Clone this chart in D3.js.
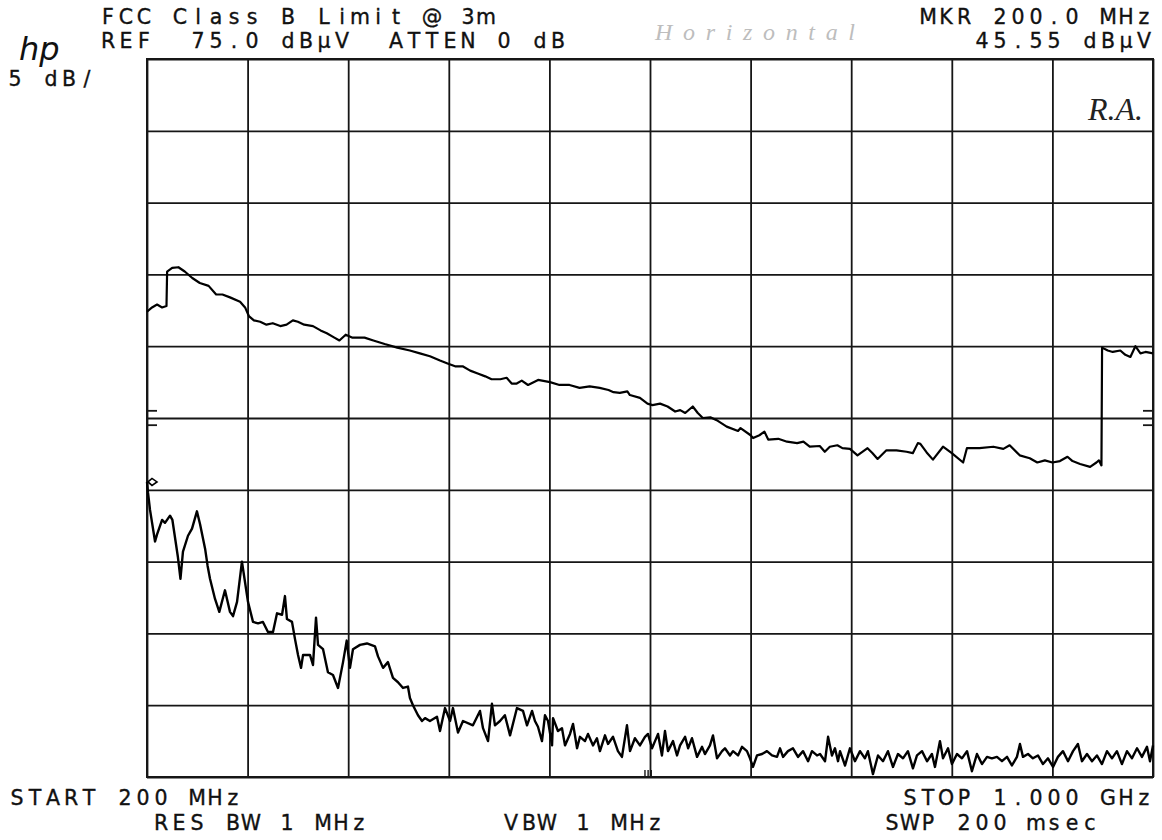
<!DOCTYPE html>
<html>
<head>
<meta charset="utf-8">
<script src="https://cdn.jsdelivr.net/npm/d3@7"></script>
<style>
  body { margin: 0; background: #fff; }
  svg { display: block; }
  text { white-space: pre; }
</style>
</head>
<body>
<svg width="1162" height="840"></svg>
<script>
// values: [MHz, dBuV]
const limitTrace = [
  [200,57.4],[204,57.7],[208,57.9],[212,57.7],[215.5,57.8],[216,60.2],[220,60.45],[225,60.5],[230,60.2],
  [236,59.75],[242,59.4],[249,59.2],[255,58.6],[260,58.6],[266,58.4],[274,58.1],[278,57.7],[281,57.1],
  [285,56.8],[290,56.7],[295,56.5],[300,56.6],[306,56.4],[311,56.5],[316,56.8],[320,56.7],[325,56.5],
  [332,56.4],[338,56.1],[343,55.9],[349,55.6],[353,55.4],[358,55.8],[363,55.6],[368,55.6],[373,55.6],
  [380,55.4],[389,55.15],[399,54.9],[409,54.7],[417,54.5],[425,54.3],[433,54.0],[439,53.8],[445,53.6],
  [451,53.6],[457,53.3],[463,53.1],[469,52.9],[474,52.7],[481,52.7],[486,52.8],[490,52.4],[494,52.4],
  [498,52.6],[503,52.3],[511,52.65],[520.5,52.5],[528,52.3],[536,52.3],[544,52.1],[552,52.2],[560,52.1],
  [567,51.95],[571,51.8],[576,51.75],[582,51.85],[584,51.6],[592,51.4],[598,51.0],[602,50.9],[608,51.0],
  [614,50.8],[620,50.45],[624,50.55],[628,50.35],[634,50.8],[638,50.35],[642,50.0],[648,50.05],[653,49.85],
  [661,49.4],[670,49.1],[672,49.3],[680,48.8],[682,48.6],[687,48.8],[691,49.05],[694,48.5],[702,48.55],
  [709,48.35],[717,48.25],[722,48.35],[727,48.0],[735,48.05],[739,47.65],[743,48.0],[749,48.1],[753,47.9],
  [759,47.85],[765,47.4],[773,47.9],[777,47.55],[781,47.15],[788,47.75],[796,47.75],[804,47.65],[809,47.55],
  [813,48.25],[815,48.2],[820,47.6],[825,47.1],[833,48.0],[840,47.55],[849,46.9],[852,47.9],[862,47.9],
  [873,48.0],[881,47.85],[886,48.1],[894,47.4],[902,47.2],[908,46.9],[914,47.05],[920,46.9],[926,47.0],
  [932,47.3],[936,47.0],[942,46.8],[950,46.6],[955,46.9],[957,47.05],[959,46.7],[959.5,54.9],[964,54.7],
  [968,54.6],[974,54.7],[978,54.4],[982,54.25],[986,55.0],[990,54.5],[994,54.6],[1000,54.5]
];

const scanTrace = [
  [200,45.55],[200.8,44.8],[202.4,43.6],[206.4,41.4],[208,41.9],[212,42.9],[214.3,42.7],[218.3,43.2],
  [220.2,42.9],[224.6,40.3],[226.6,38.8],[228.6,40.7],[232.6,41.8],[235.8,42.3],[239.7,43.5],[242.2,42.6],
  [246.2,40.9],[248.2,39.7],[250.1,38.8],[254.1,37.4],[257.5,36.5],[262,38.0],[266,36.5],[268.4,36.2],
  [271.6,37.2],[275.5,40.0],[277.9,38.6],[280.3,37.2],[284.3,35.8],[288.3,35.7],[292.2,35.8],[296.2,35.1],
  [300.2,35.1],[303.4,36.4],[307.4,36.3],[309.7,37.6],[311.3,36.0],[315.3,35.8],[317.7,34.6],[320.1,33.5],
  [322.5,32.6],[324.1,33.5],[329.6,33.5],[332,32.8],[334.4,36.1],[336,34.2],[340,33.9],[343.9,32.3],
  [347.9,32.1],[351.9,31.2],[355.9,33.0],[358.8,34.5],[361.4,32.6],[363.8,33.9],[369.4,34.2],[374.9,34.3],
  [381.3,34.1],[383.7,33.4],[387.7,32.6],[391.6,33.0],[395.6,31.9],[399.6,31.6],[403.6,31.2],[407.5,31.3],
  [409.1,30.5],[411.5,30.0],[415.5,29.3],[418.7,28.9],[421.1,29.1],[425,28.9],[430.6,29.2],[433,28.2],
  [437,29.8],[441,28.9],[443.3,29.8],[447.3,28.1],[451.3,28.9],[459.2,28.6],[464.8,29.6],[467.2,28.4],
  [471.2,27.5],[474.3,30.1],[476.7,28.6],[480.7,28.9],[484.6,29.3],[488.7,27.9],[494.2,29.8],[499,29.6],
  [502.2,28.6],[506.2,29.6],[508.5,28.9],[510.9,28.5],[514.1,27.5],[516.5,29.3],[518.9,28.9],[522.1,27.2],
  [522.9,29.1],[526.8,28.2],[530,28.4],[532.4,27.2],[536.4,28.0],[538.8,28.7],[542,27.0],[544.3,27.8],
  [548.3,27.5],[550.7,28.0],[554.7,27.2],[557.8,27.7],[560.2,26.8],[564.2,27.9],[566.6,27.3],[570.6,27.8],
  [574.5,26.8],[577.7,26.4],[581.7,28.6],[584.1,26.8],[588,27.7],[592,27.2],[596,27.8],[598.4,28.0],
  [601.6,27.0],[604,27.5],[606.4,28.0],[609.5,26.5],[611.9,28.2],[614.3,26.8],[618.3,27.5],[621.5,26.5],
  [623.9,27.2],[627.9,27.8],[630.3,27.0],[633.4,27.7],[637.4,26.4],[641.4,27.1],[643.7,26.6],[647.7,27.2],
  [650.1,27.9],[653.3,26.3],[657.3,26.8],[659.6,27.0],[663.6,26.5],[666,26.8],[670,26.5],[673.2,27.1],
  [677.1,26.8],[679.5,26.3],[681.9,25.7],[685.1,26.5],[689.1,26.6],[693,26.8],[697,26.5],[701,26.4],
  [703.4,27.0],[705.8,26.4],[709.7,26.8],[713.7,27.0],[717.7,26.4],[721.7,26.8],[725.7,26.1],[728.8,26.8],
  [732.8,26.5],[735.2,26.6],[739.2,26.1],[741.6,27.8],[744.7,26.5],[747.1,27.0],[749.5,26.1],[751.1,26.8],
  [755.1,25.8],[759,27.0],[763,26.1],[767,26.8],[770.9,26.3],[773.3,26.8],[777.3,25.2],[781.3,26.5],
  [785.3,26.1],[789.2,26.8],[793.2,25.7],[797.2,26.6],[801.2,26.3],[805.1,26.8],[809.1,25.6],[812.3,26.5],
  [816.3,26.8],[820.3,26.1],[824.2,26.6],[826.6,25.7],[830.6,27.5],[833,26.3],[837,27.0],[840.1,25.9],
  [844.1,26.6],[848.1,26.3],[852.1,26.8],[856,25.4],[860,26.6],[864,25.9],[868,26.4],[871.9,26.3],
  [875.9,26.4],[879.9,26.1],[883.9,26.4],[887.8,25.8],[891.8,26.4],[894.2,27.3],[896.6,26.4],[900.6,26.6],
  [904.5,26.3],[908.5,26.5],[912.5,25.9],[916.5,26.3],[920.5,25.7],[924.4,26.4],[928.4,26.8],[932.4,26.1],
  [936.4,26.8],[940.3,27.3],[943.5,26.1],[947.5,26.6],[951.5,26.1],[955.4,26.5],[959.4,25.9],[963.4,26.8],
  [967.4,26.3],[971.3,26.8],[975.3,25.9],[979.3,26.8],[983.3,26.3],[987.3,27.0],[991.2,26.4],[995.2,27.1],
  [997.6,26.1],[1000,27.2]
];

const gridFreq = [200, 280, 360, 440, 520, 600, 680, 760, 840, 920, 1000];
const gridLevel = [25, 30, 35, 40, 45, 50, 55, 60, 65, 70, 75];
const marker = [200, 45.55];
const thresholdLevels = [50.5, 49.5];
const bottomMarks = [596, 598.5, 601];

const svg = d3.select("svg");

const x = d3.scaleLinear().domain([200, 1000]).range([147, 1153]);
const y = d3.scaleLinear().domain([25, 75]).range([777, 59]);

// grid
const ink = "#161616";
svg.append("g")
  .attr("transform", `translate(0,${y(25)})`)
  .call(d3.axisBottom(x).tickValues(gridFreq).tickSize(-(y(25) - y(75))).tickFormat(""))
  .call(g => g.select(".domain").remove())
  .call(g => g.selectAll("line").attr("stroke", ink).attr("stroke-width", 1.8));

svg.append("g")
  .attr("transform", `translate(${x(200)},0)`)
  .call(d3.axisLeft(y).tickValues(gridLevel).tickSize(-(x(1000) - x(200))).tickFormat(""))
  .call(g => g.select(".domain").remove())
  .call(g => g.selectAll("line").attr("stroke", ink).attr("stroke-width", 1.8));

svg.append("rect")
  .attr("x", x(200))
  .attr("y", y(75))
  .attr("width", x(1000) - x(200))
  .attr("height", y(25) - y(75))
  .attr("fill", "none")
  .attr("stroke", ink)
  .attr("stroke-width", 2);

// threshold ticks on both edges
thresholdLevels.forEach(v => {
  svg.append("line")
    .attr("x1", x(200)).attr("x2", x(200) + 10)
    .attr("y1", y(v)).attr("y2", y(v))
    .attr("stroke", ink).attr("stroke-width", 1.8);
  svg.append("line")
    .attr("x1", x(1000) - 10).attr("x2", x(1000))
    .attr("y1", y(v)).attr("y2", y(v))
    .attr("stroke", ink).attr("stroke-width", 1.8);
});

// small marks on the bottom edge
bottomMarks.forEach(f => {
  svg.append("line")
    .attr("x1", x(f)).attr("x2", x(f))
    .attr("y1", y(25)).attr("y2", y(25) - 7)
    .attr("stroke", ink).attr("stroke-width", 1.4);
});

// traces
const line = d3.line().x(d => x(d[0])).y(d => y(d[1]));

svg.append("path")
  .datum(limitTrace)
  .attr("d", line)
  .attr("fill", "none")
  .attr("stroke", "#000")
  .attr("stroke-width", 2.2)
  .attr("stroke-linejoin", "round");

svg.append("path")
  .datum(scanTrace)
  .attr("d", line)
  .attr("fill", "none")
  .attr("stroke", "#000")
  .attr("stroke-width", 2.4)
  .attr("stroke-linejoin", "round");

// marker diamond
const mx = x(marker[0]) + 1, my = y(marker[1]);
svg.append("path")
  .attr("d", `M${mx},${my} L${mx + 4},${my - 3.5} L${mx + 9},${my} L${mx + 4},${my + 3.5} Z`)
  .attr("fill", "#fff")
  .attr("stroke", "#000")
  .attr("stroke-width", 1.6);

// plotter text, one character per 18 px cell
function plotText(x0, yb, str) {
  const pos = str.split("").map((c, i) => x0 + 18 * i + 9);
  svg.append("text")
    .attr("xml:space", "preserve")
    .attr("x", pos.join(" "))
    .attr("y", yb)
    .attr("text-anchor", "middle")
    .attr("font-family", "DejaVu Sans")
    .attr("font-size", 20.5)
    .attr("fill", "#111")
    .attr("stroke", "#111")
    .attr("stroke-width", 0.35)
    .text(str);
}

plotText(99, 24, "FCC Class B Limit @ 3m");
plotText(99, 48, "REF  75.0 dBµV  ATTEN 0 dB");
plotText(919, 24, "MKR 200.0 MHz");
plotText(973, 48, "45.55 dBµV");
plotText(6, 86, "5 dB/");
plotText(8, 805, "START 200 MHz");
plotText(152, 830, "RES BW 1 MHz");
plotText(502, 830, "VBW 1 MHz");
plotText(901, 805, "STOP 1.000 GHz");
plotText(883, 830, "SWP 200 msec");

// hp logo
svg.append("text")
  .attr("x", 19)
  .attr("y", 60)
  .attr("font-family", "DejaVu Sans")
  .attr("font-style", "italic")
  .attr("font-size", 32)
  .attr("fill", "#111")
  .text("hp");

// handwritten notes
svg.append("text")
  .attr("x", 655)
  .attr("y", 40)
  .attr("textLength", 200)
  .attr("lengthAdjust", "spacing")
  .attr("font-family", "Liberation Serif")
  .attr("font-style", "italic")
  .attr("font-size", 24)
  .attr("fill", "#bdbdbd")
  .text("Horizontal");

svg.append("text")
  .attr("x", 1088)
  .attr("y", 120)
  .attr("font-family", "Liberation Serif")
  .attr("font-style", "italic")
  .attr("font-size", 32)
  .attr("fill", "#222")
  .text("R.A.");
</script>
</body>
</html>
